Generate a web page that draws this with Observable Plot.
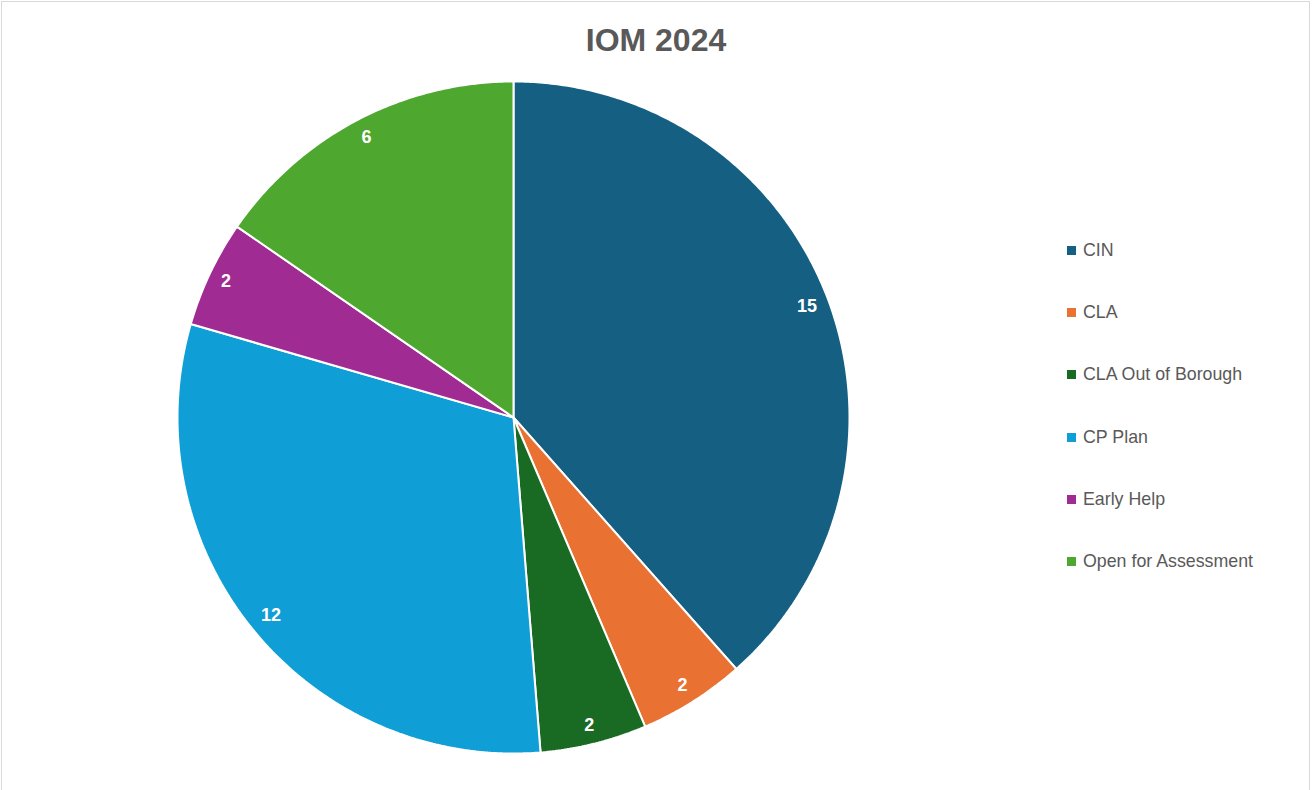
<!DOCTYPE html>
<html>
<head>
<meta charset="utf-8">
<script src="https://cdn.jsdelivr.net/npm/d3@7"></script>
<script src="https://cdn.jsdelivr.net/npm/@observablehq/plot@0.6"></script>
<style>
  html, body { margin: 0; padding: 0; background: #fff; }
  #frame { position: absolute; left: 1px; top: 1px; width: 1309px; height: 820px; border: 1.5px solid #d9d9d9; box-sizing: border-box; }
  #wrap { position: absolute; left: 0; top: 0; width: 1312px; height: 790px; overflow: hidden; font-family: "Liberation Sans", Arial, sans-serif; }
  #title { position: absolute; left: 0; width: 1312px; top: 20px; text-align: center; font-size: 32px; font-weight: bold; color: #595959; line-height: 40px; }
  #chart { position: absolute; left: 0; top: 0; }
  #legend { position: absolute; left: 1067px; top: 0; }
  .item { position: absolute; left: 0; white-space: nowrap; font-size: 17.8px; color: #595959; line-height: 20px; }
  .sw { display: inline-block; width: 9px; height: 9px; margin-right: 7px; vertical-align: 1px; }
</style>
</head>
<body>
<div id="wrap">
  <div id="frame"></div>
  <div id="chart"></div>
  <div id="title">IOM 2024</div>
  <div id="legend"></div>
</div>
<script>
const categories = ["CIN", "CLA", "CLA Out of Borough", "CP Plan", "Early Help", "Open for Assessment"];
const values = [15, 2, 2, 12, 2, 6];
const colors = ["#156082", "#E97132", "#196B24", "#0F9ED5", "#A02B93", "#4EA72E"];

const total = d3.sum(values);
const slices = [];
let acc = 0;
categories.forEach((name, i) => {
  const a0 = acc / total * 2 * Math.PI;
  acc += values[i];
  const a1 = acc / total * 2 * Math.PI;
  slices.push({name, value: values[i], a0, a1, mid: (a0 + a1) / 2});
});

// Polygon outline of each slice (center + arc samples), unit radius
const outline = [];
for (const s of slices) {
  outline.push({name: s.name, x: 0, y: 0});
  const n = Math.max(2, Math.ceil((s.a1 - s.a0) / (Math.PI / 360)));
  for (let k = 0; k <= n; k++) {
    const a = s.a0 + (s.a1 - s.a0) * k / n;
    outline.push({name: s.name, x: Math.sin(a), y: Math.cos(a)});
  }
}
// "Inside end" labels: label box kept just inside the rim
const pxPerUnit = 335.5;
const labels = slices.map(s => {
  const txt = String(s.value);
  const hw = txt.length * 10 / 2, hh = 9;
  const sx = Math.sin(s.mid), cy = Math.cos(s.mid);
  const d = (326 - (hw * Math.abs(sx) + hh * Math.abs(cy))) / pxPerUnit;
  return {name: s.name, text: txt, x: d * sx, y: d * cy};
});

const chart = Plot.plot({
  width: 1312,
  height: 790,
  marginLeft: 177,
  marginRight: 1312 - 849,
  marginTop: 81,
  marginBottom: 790 - 753,
  x: {domain: [-1, 1], axis: null},
  y: {domain: [-1, 1], axis: null},
  color: {domain: categories, range: colors},
  style: {background: "transparent", fontFamily: "Liberation Sans, Arial, sans-serif"},
  marks: [
    Plot.line(outline, {x: "x", y: "y", z: "name", fill: "name", stroke: "white", strokeWidth: 2, curve: "linear-closed", strokeLinejoin: "miter"}),
    Plot.text(labels, {x: "x", y: "y", text: "text", fill: "white", fontWeight: "bold", fontSize: 18})
  ]
});
document.getElementById("chart").appendChild(chart);

const legend = document.getElementById("legend");
const rowTop = 240, rowStep = 62.2;
categories.forEach((name, i) => {
  const div = document.createElement("div");
  div.className = "item";
  div.style.top = (rowTop + i * rowStep) + "px";
  const sw = document.createElement("span");
  sw.className = "sw";
  sw.style.background = colors[i];
  div.appendChild(sw);
  div.appendChild(document.createTextNode(name));
  legend.appendChild(div);
});
</script>
</body>
</html>
